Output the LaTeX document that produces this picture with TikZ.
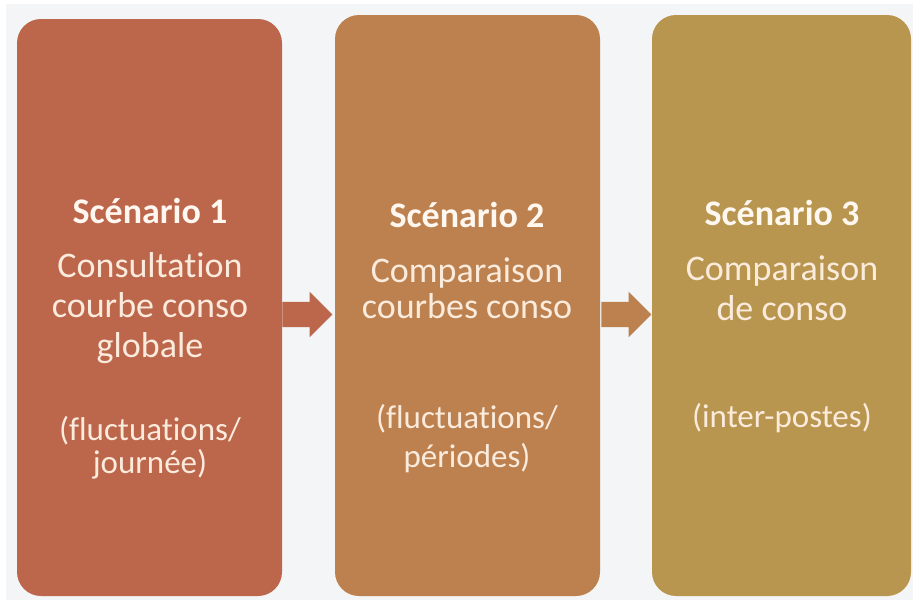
\documentclass[tikz,border=0pt]{standalone}
\usepackage{fontspec}
\setmainfont{Carlito}[Ligatures=NoCommon]
\usetikzlibrary{positioning, calc, shapes.arrows}

\definecolor{brique}{HTML}{BC664B}
\definecolor{cuivre}{HTML}{BC814F}
\definecolor{ocre}{HTML}{B9964F}
\definecolor{creme}{HTML}{FBEBDD}
\definecolor{blanccasse}{HTML}{FFF8F0}
\definecolor{fond}{HTML}{F4F5F7}

\begin{document}
\begin{tikzpicture}[x=1pt, y=-1pt,
    scenario/.style={rectangle, rounded corners=24pt, inner sep=0pt, minimum width=265pt},
    titre/.style={anchor=base, inner sep=0pt, text=blanccasse, font=\bfseries\fontsize{36}{40}\selectfont},
    texte/.style={anchor=base, inner sep=0pt, text=creme, align=center, font=\fontsize{36}{40}\selectfont},
    note/.style={anchor=base, inner sep=0pt, text=creme, align=center, font=\fontsize{33}{36}\selectfont},
    fleche/.style={single arrow, inner xsep=0pt, inner ysep=12.5pt, minimum height=50pt,
      single arrow head extend=10pt, single arrow head indent=0pt}]
  \useasboundingbox (0,0) rectangle (913,603);
  \fill[white] (0,0) rectangle (913,603);
  \fill[fond] (6,4) rectangle (913,600);

  % les trois scenarios
  \node[scenario, fill=brique, minimum height=577pt] (s1) at (149.5,307.5) {};
  \node[scenario, fill=cuivre, minimum height=581pt] (s2) at (467.5,305.5) {};
  \node[scenario, fill=ocre, minimum width=259pt, minimum height=581pt] (s3) at (781.5,305.5) {};

  % fleches entre les blocs
  \node[fleche, fill=brique] (f1) at (301,314.5) {};
  \node[fleche, fill=cuivre] (f2) at (620,314.5) {};

  % ancre base = ligne du bas
  \node[titre] (t1) at (150,223) {Scénario 1};
  \node[texte] (d1) at (150,357) {Consultation\\courbe conso\\globale};
  \node[note] (n1) at (150,473) {(fluctuations/\\[-3pt]journée)};

  \node[titre] (t2) at (467,227) {Scénario 2};
  \node[texte] (d2) at (467,318) {Comparaison\\[-4pt]courbes conso};
  \node[note] (n2) at (467,467) {(fluctuations/\\[3pt]périodes)};

  \node[titre] (t3) at (782,225) {Scénario 3};
  \node[texte] (d3) at (782,320) {Comparaison\\de conso};
  \node[note] (n3) at (782,427) {(inter-postes)};
\end{tikzpicture}
\end{document}
